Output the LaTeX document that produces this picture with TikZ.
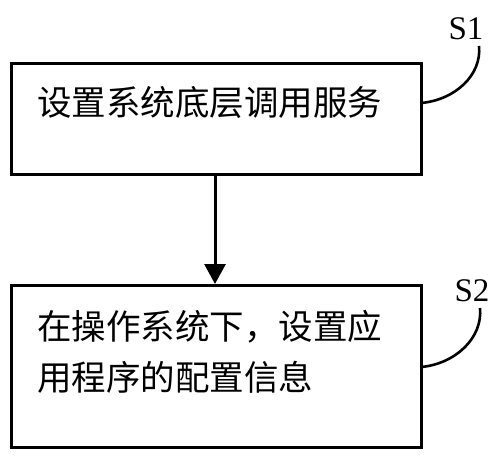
\documentclass[tikz,border=0pt]{standalone}
\usepackage{fontspec}
\setmainfont{Liberation Serif}
\newfontfamily\cjk{Noto Sans CJK SC}
\usetikzlibrary{arrows.meta}
\begin{document}
\begin{tikzpicture}[x=1pt,y=-1pt,
  stepbox/.style={draw=black,line width=2.8pt,minimum width=410pt,anchor=north west,inner sep=0pt},
  boxtext/.style={font=\cjk\fontsize{34.5}{50}\selectfont,anchor=west,inner sep=0pt},
  steplabel/.style={font=\fontsize{33}{34}\selectfont,inner sep=0pt},
  leader/.style={line width=2.6pt},
  flow/.style={line width=3pt,-{Triangle[length=20pt,width=21pt]}}]
\useasboundingbox (0,0) rectangle (500,459);
\node[stepbox,minimum height=111pt] (b1) at (10,62) {};
\node[stepbox,minimum height=162pt] (b2) at (10,284) {};
\node[boxtext] (t1) at (37,102) {设置系统底层调用服务};
\node[boxtext] (t2a) at (37,327) {在操作系统下，设置应};
\node[boxtext] (t2b) at (37,377) {用程序的配置信息};
\node[steplabel] (s1) at (466,29) {S1};
\node[steplabel] (s2) at (472,291) {S2};
\coordinate (c1) at (421,103);
\coordinate (c2) at (421,367);
\coordinate (e1) at (479,46);
\coordinate (e2) at (480,308);
\draw[flow] (b1.south -| 215,0) -- (b2.north -| 215,0);
\draw[leader] (c1) .. controls (455,100) and (482,75) .. (e1);
\draw[leader] (c2) .. controls (455,364) and (483,338) .. (e2);
\end{tikzpicture}
\end{document}
